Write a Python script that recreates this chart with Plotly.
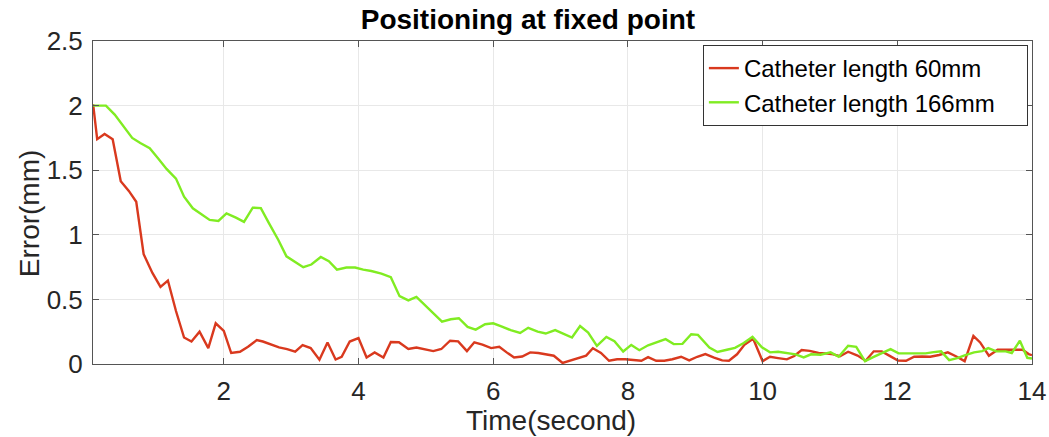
import plotly.graph_objects as go

# ---- data ----
t_60 = [0.06, 0.12, 0.23, 0.35, 0.47, 0.59, 0.70, 0.81, 0.94, 1.06, 1.17, 1.29, 1.41, 1.52, 1.64, 1.77, 1.88, 2.00,
        2.11, 2.24, 2.36, 2.49, 2.58, 2.71, 2.82, 2.94, 3.06, 3.17, 3.29, 3.42, 3.54, 3.66, 3.75, 3.87, 4.00, 4.12,
        4.24, 4.37, 4.48, 4.60, 4.74, 4.86, 4.99, 5.11, 5.23, 5.36, 5.48, 5.61, 5.72, 5.84, 5.97, 6.09, 6.20, 6.31,
        6.43, 6.55, 6.67, 6.79, 6.90, 7.03, 7.15, 7.26, 7.38, 7.48, 7.60, 7.72, 7.84, 7.96, 8.08, 8.20, 8.30, 8.42,
        8.54, 8.66, 8.79, 8.91, 9.03, 9.15, 9.28, 9.40, 9.50, 9.62, 9.73, 9.86, 10.00, 10.11, 10.23, 10.36, 10.47,
        10.58, 10.70, 10.83, 10.93, 11.05, 11.15, 11.27, 11.41, 11.53, 11.65, 11.77, 11.88, 12.01, 12.13, 12.25,
        12.37, 12.49, 12.62, 12.75, 12.87, 13.00, 13.13, 13.23, 13.36, 13.49, 13.61, 13.74, 13.86, 13.95, 14.00]
err_60 = [2.01, 1.74, 1.78, 1.74, 1.415, 1.34, 1.256, 0.85, 0.705, 0.597, 0.646, 0.41, 0.205, 0.174, 0.25, 0.123,
          0.315, 0.256, 0.085, 0.095, 0.133, 0.185, 0.174, 0.148, 0.128, 0.115, 0.095, 0.146, 0.123, 0.033, 0.167,
          0.035, 0.056, 0.174, 0.20, 0.05, 0.09, 0.05, 0.17, 0.168, 0.116, 0.128, 0.116, 0.10, 0.116, 0.18, 0.175,
          0.10, 0.168, 0.15, 0.123, 0.133, 0.09, 0.05, 0.058, 0.09, 0.085, 0.077, 0.064, 0.008, 0.026, 0.045,
          0.065, 0.122, 0.086, 0.025, 0.037, 0.037, 0.03, 0.025, 0.053, 0.025, 0.025, 0.037, 0.056, 0.028, 0.056,
          0.077, 0.05, 0.028, 0.025, 0.075, 0.148, 0.196, 0.022, 0.056, 0.046, 0.036, 0.062, 0.108, 0.102, 0.085,
          0.082, 0.075, 0.06, 0.095, 0.065, 0.025, 0.098, 0.098, 0.065, 0.027, 0.025, 0.056, 0.058, 0.056, 0.07,
          0.09, 0.06, 0.022, 0.218, 0.167, 0.064, 0.11, 0.11, 0.11, 0.11, 0.077, 0.068]

t_166 = [0.06, 0.12, 0.25, 0.38, 0.50, 0.64, 0.76, 0.90, 1.02, 1.15, 1.29, 1.41, 1.54, 1.67, 1.79, 1.92, 2.04, 2.18,
         2.30, 2.43, 2.55, 2.67, 2.81, 2.93, 3.06, 3.18, 3.30, 3.44, 3.56, 3.68, 3.82, 3.95, 4.07, 4.19, 4.34, 4.48,
         4.61, 4.74, 4.86, 4.99, 5.11, 5.24, 5.37, 5.49, 5.62, 5.74, 5.88, 6.00, 6.13, 6.26, 6.40, 6.52, 6.66, 6.78,
         6.92, 7.04, 7.17, 7.29, 7.41, 7.54, 7.68, 7.80, 7.93, 8.05, 8.17, 8.30, 8.43, 8.56, 8.68, 8.81, 8.94, 9.04,
         9.21, 9.33, 9.47, 9.59, 9.72, 9.85, 9.99, 10.11, 10.23, 10.36, 10.49, 10.61, 10.72, 10.86, 11.01, 11.13,
         11.27, 11.39, 11.52, 11.65, 11.77, 11.90, 12.02, 12.14, 12.29, 12.42, 12.54, 12.65, 12.77, 12.89, 13.01,
         13.14, 13.26, 13.35, 13.47, 13.61, 13.70, 13.82, 13.93, 14.00]
err_166 = [2.0, 2.0, 2.0, 1.93, 1.85, 1.75, 1.71, 1.67, 1.595, 1.51, 1.435, 1.295, 1.205, 1.16, 1.115, 1.107, 1.166,
           1.133, 1.10, 1.21, 1.207, 1.09, 0.96, 0.833, 0.79, 0.749, 0.77, 0.828, 0.795, 0.73, 0.747, 0.747, 0.73,
           0.72, 0.70, 0.672, 0.525, 0.492, 0.52, 0.454, 0.39, 0.328, 0.346, 0.354, 0.287, 0.266, 0.308, 0.315, 0.29,
           0.262, 0.24, 0.28, 0.25, 0.236, 0.262, 0.236, 0.205, 0.294, 0.244, 0.14, 0.21, 0.176, 0.097, 0.148,
           0.107, 0.145, 0.168, 0.192, 0.154, 0.156, 0.23, 0.225, 0.128, 0.093, 0.11, 0.125, 0.162, 0.21, 0.13,
           0.09, 0.095, 0.085, 0.075, 0.051, 0.075, 0.072, 0.09, 0.056, 0.141, 0.133, 0.022, 0.055, 0.083, 0.115,
           0.082, 0.082, 0.082, 0.082, 0.092, 0.098, 0.03, 0.046, 0.068, 0.09, 0.1, 0.123, 0.098, 0.098, 0.085,
           0.18, 0.048, 0.042]

series_names = ["Catheter length 60mm", "Catheter length 166mm"]
series_colors = ["#D9391E", "#80EC22"]
x_ticks = [2, 4, 6, 8, 10, 12, 14]
y_ticks = [0, 0.5, 1, 1.5, 2, 2.5]
y_tick_text = ["0", "0.5", "1", "1.5", "2", "2.5"]
title_text = "Positioning at fixed point"
x_title = "Time(second)"
y_title = "Error(mm)"

FONT = "Liberation Sans, Arial, Helvetica, sans-serif"
TXT = "#262626"
PAD = "\u00a0" * 4  # extra right padding inside the legend box

fig = go.Figure()
for t, e, name, col in [(t_60, err_60, series_names[0], series_colors[0]),
                        (t_166, err_166, series_names[1], series_colors[1])]:
    fig.add_trace(go.Scatter(x=t, y=e, mode="lines", name=name + PAD,
                             line=dict(color=col, width=2.4)))

axis_common = dict(showline=True, linecolor="#555555", linewidth=1, mirror="ticks",
                   ticks="inside", ticklen=6, tickcolor="#555555",
                   showgrid=True, gridcolor="#e8e8e8", gridwidth=1, zeroline=False,
                   automargin=False, ticklabelstandoff=4,
                   tickfont=dict(family=FONT, size=26, color=TXT))

fig.update_xaxes(range=[0.058, 14], tickvals=x_ticks, **axis_common)
fig.update_yaxes(range=[0, 2.5], tickvals=y_ticks, ticktext=y_tick_text, **axis_common)

fig.add_annotation(text=x_title, xref="paper", yref="paper", x=0.488, y=-0.176,
                   xanchor="center", yanchor="middle", showarrow=False,
                   font=dict(family=FONT, size=28, color=TXT))
fig.add_annotation(text=y_title, xref="paper", yref="paper", x=-0.0674, y=0.466,
                   xanchor="center", yanchor="middle", showarrow=False, textangle=-90,
                   font=dict(family=FONT, size=28, color=TXT))

fig.update_layout(
    width=1049, height=437,
    margin=dict(l=93, r=17, t=41, b=73),
    paper_bgcolor="white", plot_bgcolor="white",
    title=dict(text="<b>" + title_text + "</b>", x=0.5033, xanchor="center",
               y=0.956, yanchor="middle", yref="container",
               font=dict(family=FONT, size=28, color="black")),
    legend=dict(x=0.6495, xanchor="left", y=0.9876, yanchor="top",
                bgcolor="white", bordercolor="#333333", borderwidth=1,
                font=dict(family=FONT, size=24, color="black"),
                tracegroupgap=0, itemwidth=30),
    showlegend=True,
)

fig.write_html("out.html", config={"displayModeBar": False},
               post_script="document.body.style.margin='0px';")
